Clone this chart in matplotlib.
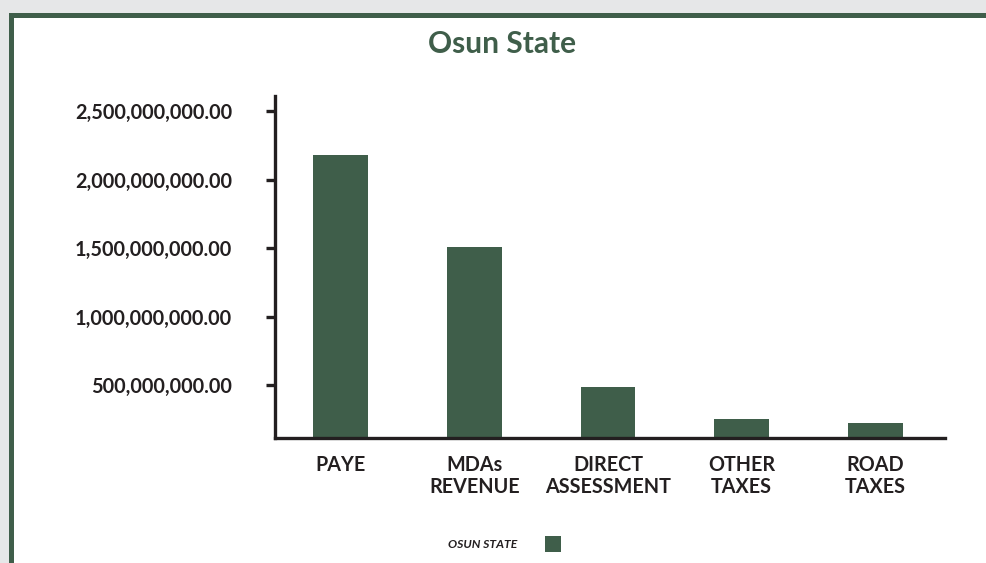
import matplotlib
matplotlib.use("Agg")
import matplotlib.pyplot as plt
from matplotlib.patches import Rectangle
from matplotlib.ticker import FixedLocator, FuncFormatter

# Revenue by source, Osun State
categories = ["PAYE", "MDAs\nREVENUE", "DIRECT\nASSESSMENT", "OTHER\nTAXES", "ROAD\nTAXES"]
values = [2.182e9, 1.511e9, 0.489e9, 0.255e9, 0.226e9]
y_ticks = [500e6, 1000e6, 1500e6, 2000e6, 2500e6]
series_name = "OSUN STATE"
title = "Osun State"

GREEN = "#3f5e4a"
INK = "#231f20"
plt.rcParams["font.family"] = ["Lato", "DejaVu Sans"]

W, H = 986, 563
fig = plt.figure(figsize=(W / 100, H / 100), dpi=100)
fig.patch.set_facecolor("#e6e7e8")

# framed white panel with a green border on the top and left
fig.patches.append(Rectangle((9 / W, 0), 1, 1 - 13 / H, transform=fig.transFigure,
                             facecolor=GREEN, edgecolor="none", zorder=-2))
fig.patches.append(Rectangle((14 / W, 0), 1, 1 - 18 / H, transform=fig.transFigure,
                             facecolor="white", edgecolor="none", zorder=-1))

left, right, top, bottom = 275, 945, 96, 438
ax = fig.add_axes([left / W, 1 - bottom / H, (right - left) / W, (bottom - top) / H])
ax.set_zorder(1)
ax.set_facecolor("none")

x = list(range(len(categories)))
ax.bar(x, values, width=0.41, color=GREEN, zorder=2)

ax.set_xlim(-0.49, 4.52)
ax.set_ylim(117e6, 2.61e9)

for s in ("top", "right"):
    ax.spines[s].set_visible(False)
for s in ("left", "bottom"):
    ax.spines[s].set_color(INK)
    ax.spines[s].set_linewidth(2.4)
    ax.spines[s].set_zorder(3)

ax.yaxis.set_major_locator(FixedLocator(y_ticks))
ax.yaxis.set_major_formatter(FuncFormatter(lambda v, p: f"{v:,.2f}"))
ax.tick_params(axis="y", length=6.5, width=2.4, color=INK, pad=24.5,
               labelsize=14.3, labelcolor=INK)
for lbl in ax.get_yticklabels():
    lbl.set_fontweight("bold")

ax.set_xticks(x)
ax.set_xticklabels(categories, fontsize=14.2, fontweight="bold", color=INK,
                   linespacing=1.12)
ax.tick_params(axis="x", length=0, pad=12)

fig.text(502 / W, 1 - 44 / H, title, ha="center", va="center",
         fontsize=21.5, fontweight="bold", color=GREEN)

# legend: label followed by a swatch
fig.text(517 / W, 1 - 544 / H, series_name, ha="right", va="center",
         fontsize=8.7, fontweight="bold", fontstyle="italic", color=INK)
fig.patches.append(Rectangle((545 / W, 1 - 552 / H), 16 / W, 16 / H,
                             transform=fig.transFigure, facecolor=GREEN,
                             edgecolor="none", zorder=3))

fig.savefig("out.png", dpi=100, facecolor=fig.get_facecolor())
